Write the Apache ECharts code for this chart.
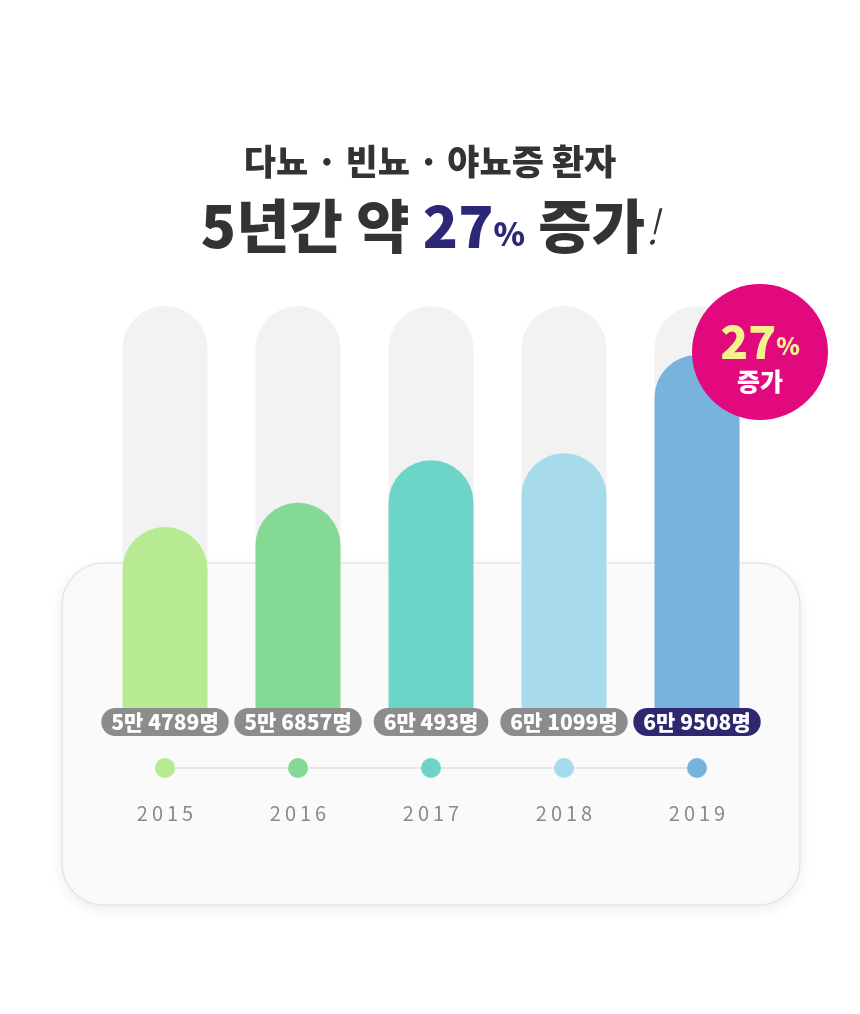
<!DOCTYPE html>
<html><head><meta charset="utf-8">
<script src="https://cdn.jsdelivr.net/npm/echarts@6/dist/echarts.min.js"></script>
<style>html,body{margin:0;padding:0;background:#fff}#c{width:860px;height:1014px}</style>
</head><body><div id="c"></div>
<script>
const years = ['2015','2016','2017','2018','2019'];
const patients = [54789, 56857, 60493, 61099, 69508];
const barColors = ['#b8e993','#84d995','#6dd4c8','#a7dbec','#78b3dd'];
const titleLine1 = '다뇨 · 빈뇨 · 야뇨증 환자';
const yMin = 38100, yMax = 73700;

const FONT = '"Noto Sans CJK KR","Noto Sans",sans-serif';
const pct = Math.round((patients[patients.length-1]-patients[0])/patients[0]*100);
const fmt = v => Math.floor(v/10000)+'만 '+(v%10000)+'명';
const last = patients.length-1;

const chart = echarts.init(document.getElementById('c'), null, {renderer:'canvas'});
const gridL = 98.5, gridR = 96.5;
chart.setOption({
  animation:false,
  backgroundColor:'#ffffff',
  textStyle:{fontFamily:FONT},
  title:[
    {text:titleLine1, left:'center', top:137,
     textStyle:{fontFamily:FONT, fontSize:35, fontWeight:900, color:'#333333', lineHeight:40}},
    {text:'5년간 약 {n|'+pct+'}{p|%} 증가{e|!}', left:'center', top:188,
     textStyle:{fontFamily:FONT, fontSize:58, fontWeight:900, color:'#333333', lineHeight:66,
       rich:{
         n:{fontFamily:FONT, fontSize:58, fontWeight:900, color:'#2c2877', lineHeight:66},
         p:{fontFamily:FONT, fontSize:32, fontWeight:900, color:'#2c2877', lineHeight:66, padding:[16,0,0,0]},
         e:{fontFamily:FONT, fontSize:48, fontWeight:300, fontStyle:'italic', color:'#333333', lineHeight:66}
       }}}
  ],
  grid:[
    {left:gridL, right:gridR, top:306, bottom:1014-722},
    {left:gridL, right:gridR, top:758, height:20}
  ],
  xAxis:[
    {type:'category', data:years, gridIndex:0, show:false},
    {type:'category', data:years, gridIndex:1, z:6,
     axisLine:{show:false}, axisTick:{show:false},
     axisLabel:{margin:25, fontSize:20, color:'#8a8a8a', fontFamily:FONT,
       formatter: s => s.split('').join('\u2009')}}
  ],
  yAxis:[
    {type:'value', min:yMin, max:yMax, gridIndex:0, show:false},
    {type:'value', min:-1, max:1, gridIndex:1, show:false}
  ],
  graphic:[
    {type:'rect', z:2, shape:{x:62, y:563, width:738, height:342, r:42},
     style:{fill:'#fafafa', stroke:'#e6e6e6', lineWidth:1.5,
       shadowBlur:14, shadowColor:'rgba(0,0,0,0.07)', shadowOffsetY:4}},
    {type:'circle', z:100, shape:{cx:760, cy:352, r:68}, style:{fill:'#e2097e'}},
    {type:'text', z:101, x:760, y:342, style:{
      text:'{n|'+pct+'}{p|%}', align:'center', verticalAlign:'middle',
      rich:{
        n:{fontFamily:FONT, fontSize:46, fontWeight:900, fill:'#f4f28c', lineHeight:50},
        p:{fontFamily:FONT, fontSize:24, fontWeight:900, fill:'#f4f28c', lineHeight:50, padding:[8,0,0,0]}
      }}},
    {type:'text', z:101, x:760, y:381, style:{
      text:'증가', align:'center', verticalAlign:'middle',
      fontFamily:FONT, fontSize:25, fontWeight:900, fill:'#ffffff'}}
  ],
  series:[
    {type:'bar', xAxisIndex:0, yAxisIndex:0, z:1, barWidth:85, barGap:'-100%',
     silent:true,
     data: years.map(() => yMax),
     itemStyle:{color:'#f2f2f2', borderRadius:[42.5,42.5,0,0]}},
    {type:'bar', xAxisIndex:0, yAxisIndex:0, z:3, barWidth:85, barGap:'-100%',
     data: patients.map((v,i) => ({
       value:v,
       itemStyle:{color:barColors[i]},
       label: i===last ? {backgroundColor:'#2e2870'} : {}
     })),
     itemStyle:{borderRadius:[42.5,42.5,0,0]},
     label:{show:true, position:['50%','100%'], align:'center', verticalAlign:'middle',
       formatter: p => fmt(p.value),
       fontFamily:FONT, fontSize:21, fontWeight:900, color:'#ffffff',
       backgroundColor:'#8c8c8c', borderRadius:14, padding:[3,10,3,10], lineHeight:22}},
    {type:'line', xAxisIndex:1, yAxisIndex:1, z:4,
     data: patients.map((v,i) => ({value:0, itemStyle:{color:barColors[i]}})),
     symbol:'circle', symbolSize:20,
     lineStyle:{color:'#e0e0e0', width:1.5},
     itemStyle:{borderWidth:0}}
  ]
});
</script>
</body></html>
